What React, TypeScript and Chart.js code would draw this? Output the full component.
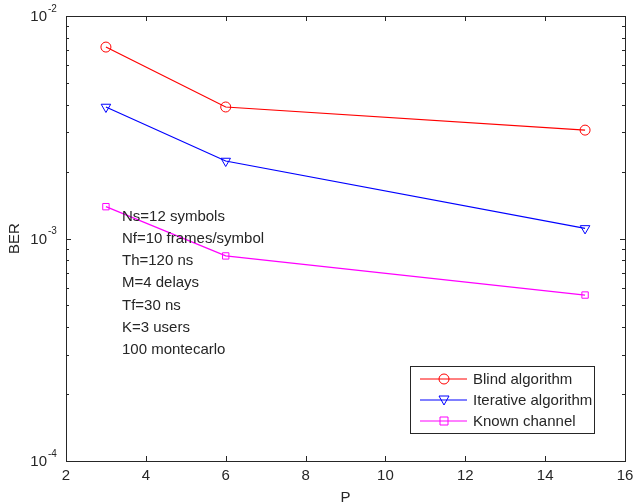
import React, { useEffect, useRef } from "react";
import { Chart, registerables } from "chart.js";

Chart.register(...registerables);

const pValues = [3, 6, 15];
const blindBER = [7.25e-3, 3.9e-3, 3.07e-3];
const iterativeBER = [3.9e-3, 2.23e-3, 1.11e-3];
const knownBER = [1.39e-3, 8.35e-4, 5.57e-4];
const seriesNames = ["Blind algorithm", "Iterative algorithm", "Known channel"];
const xTicks = [2, 4, 6, 8, 10, 12, 14, 16];
const yDecades = [-4, -3, -2];
const annotations = [
  "Ns=12 symbols",
  "Nf=10 frames/symbol",
  "Th=120 ns",
  "M=4 delays",
  "Tf=30 ns",
  "K=3 users",
  "100 montecarlo",
];

const FONT = "Liberation Sans, Arial, sans-serif";
const AXIS_COLOR = "#262626";

const overlay = {
  id: "matlabOverlay",
  afterDatasetsDraw(chart: any) {
    const { ctx, chartArea: a, scales } = chart;
    const xs = scales.x;
    const ys = scales.y;
    ctx.save();
    ctx.strokeStyle = AXIS_COLOR;
    ctx.lineWidth = 1;
    ctx.strokeRect(Math.round(a.left) + 0.5, Math.round(a.top) + 0.5, Math.round(a.right - a.left), Math.round(a.bottom - a.top));
    ctx.beginPath();
    for (const t of xTicks) {
      const px = Math.round(xs.getPixelForValue(t)) + 0.5;
      ctx.moveTo(px, a.bottom);
      ctx.lineTo(px, a.bottom - 5);
      ctx.moveTo(px, a.top);
      ctx.lineTo(px, a.top + 5);
    }
    for (let d = -4; d <= -2; d++) {
      for (let m = 1; m <= 9; m++) {
        if (d === -2 && m > 1) break;
        const v = m * Math.pow(10, d);
        const py = Math.round(ys.getPixelForValue(v)) + 0.5;
        const len = m === 1 ? 5 : 3;
        ctx.moveTo(a.left, py);
        ctx.lineTo(a.left + len, py);
        ctx.moveTo(a.right, py);
        ctx.lineTo(a.right - len, py);
      }
    }
    ctx.stroke();

    ctx.fillStyle = AXIS_COLOR;
    ctx.font = `15px ${FONT}`;
    ctx.textAlign = "center";
    ctx.textBaseline = "middle";
    for (const t of xTicks) {
      ctx.fillText(String(t), xs.getPixelForValue(t), a.bottom + 15);
    }
    for (const d of yDecades) {
      const py = ys.getPixelForValue(Math.pow(10, d));
      ctx.font = `15px ${FONT}`;
      ctx.textAlign = "right";
      ctx.fillText("10", a.left - 19, py + 1);
      ctx.font = `10px ${FONT}`;
      ctx.textAlign = "left";
      ctx.fillText(String(d), a.left - 18, py - 7);
    }
    ctx.font = `15px ${FONT}`;
    ctx.textAlign = "center";
    ctx.fillText("P", (a.left + a.right) / 2, a.bottom + 37);
    ctx.save();
    ctx.translate(15, (a.top + a.bottom) / 2);
    ctx.rotate(-Math.PI / 2);
    ctx.fillText("BER", 0, 0);
    ctx.restore();

    ctx.textAlign = "left";
    ctx.fillStyle = AXIS_COLOR;
    annotations.forEach((s, i) => {
      ctx.fillText(s, 122, 217 + i * 22.1);
    });

    const lx = 410, ly = 366, lw = 184, lh = 67;
    ctx.fillStyle = "#ffffff";
    ctx.fillRect(lx, ly, lw, lh);
    ctx.strokeStyle = AXIS_COLOR;
    ctx.strokeRect(lx + 0.5, ly + 0.5, lw, lh);
    chart.data.datasets.forEach((ds: any, i: number) => {
      const cy = ly + 13 + i * 21;
      ctx.strokeStyle = ds.borderColor;
      ctx.lineWidth = 1;
      ctx.beginPath();
      ctx.moveTo(lx + 10, cy);
      ctx.lineTo(lx + 57, cy);
      ctx.stroke();
      const mx = lx + 34;
      ctx.beginPath();
      if (ds.pointStyle === "circle") {
        ctx.arc(mx, cy, 5, 0, Math.PI * 2);
      } else if (ds.pointStyle === "triangle") {
        ctx.moveTo(mx - 5, cy - 4);
        ctx.lineTo(mx + 5, cy - 4);
        ctx.lineTo(mx, cy + 5);
        ctx.closePath();
      } else {
        ctx.rect(mx - 4, cy - 4, 8, 8);
      }
      ctx.stroke();
      ctx.fillStyle = AXIS_COLOR;
      ctx.font = `15px ${FONT}`;
      ctx.textAlign = "left";
      ctx.textBaseline = "middle";
      ctx.fillText(ds.label, lx + 63, cy + 1);
    });
    ctx.restore();
  },
};

export default function App() {
  const ref = useRef<HTMLCanvasElement>(null);
  useEffect(() => {
    document.body.style.margin = "0";
    document.body.style.background = "#ffffff";
    const toPts = (arr: number[]) => pValues.map((p, i) => ({ x: p, y: arr[i] }));
    const chart = new Chart(ref.current!, {
      type: "line",
      data: {
        datasets: [
          {
            label: seriesNames[0],
            data: toPts(blindBER),
            borderColor: "#ff0000",
            backgroundColor: "transparent",
            pointStyle: "circle",
            pointRadius: 5,
            pointBorderWidth: 1,
            borderWidth: 1.2,
          },
          {
            label: seriesNames[1],
            data: toPts(iterativeBER),
            borderColor: "#0000ff",
            backgroundColor: "transparent",
            pointStyle: "triangle",
            pointRotation: 180,
            pointRadius: 5.5,
            pointBorderWidth: 1,
            borderWidth: 1.2,
          },
          {
            label: seriesNames[2],
            data: toPts(knownBER),
            borderColor: "#ff00ff",
            backgroundColor: "transparent",
            pointStyle: "rect",
            pointRadius: 4.5,
            pointBorderWidth: 1,
            borderWidth: 1.2,
          },
        ],
      },
      options: {
        animation: false,
        responsive: false,
        devicePixelRatio: 1,
        layout: { padding: { left: 66, top: 16, right: 14, bottom: 43 } },
        plugins: { legend: { display: false }, tooltip: { enabled: false } },
        scales: {
          x: { type: "linear", min: 2, max: 16, display: false },
          y: { type: "logarithmic", min: 1e-4, max: 1e-2, display: false },
        },
      },
      plugins: [overlay],
    });
    return () => chart.destroy();
  }, []);
  return (
    <div style={{ width: 639, height: 504, background: "#fff" }}>
      <canvas ref={ref} width={639} height={504} style={{ display: "block" }} />
    </div>
  );
}
